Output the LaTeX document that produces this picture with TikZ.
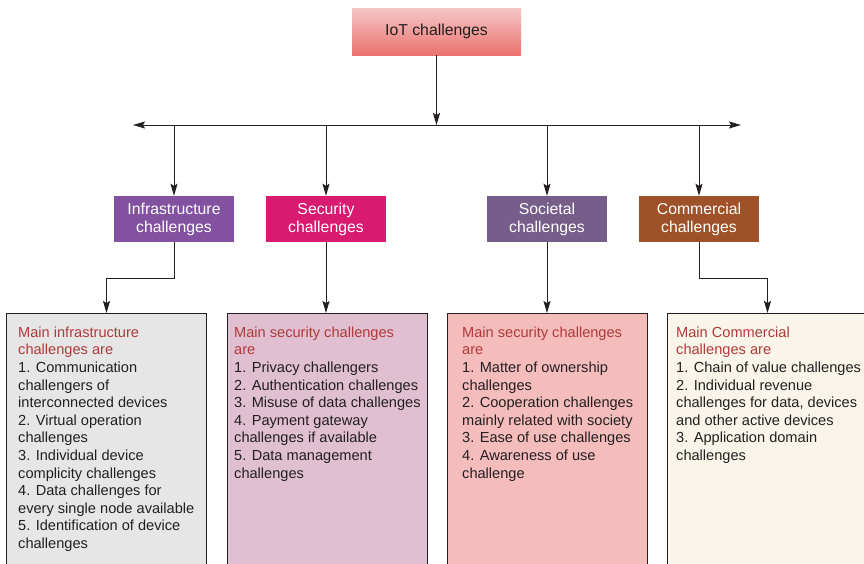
\documentclass[tikz,border=0pt]{standalone}
\usepackage{fontspec}
\setmainfont{Liberation Sans}
\usetikzlibrary{arrows.meta,calc}
\definecolor{ink}{HTML}{231F20}
\definecolor{headtop}{HTML}{F6C6C6}
\definecolor{headbot}{HTML}{EA736F}
\definecolor{infracol}{HTML}{8252A0}
\definecolor{securcol}{HTML}{D81A70}
\definecolor{sociocol}{HTML}{765D8A}
\definecolor{commcol}{HTML}{9F5129}
\definecolor{infrafill}{HTML}{E6E6E6}
\definecolor{securfill}{HTML}{E0BFD0}
\definecolor{sociofill}{HTML}{F5BCBC}
\definecolor{commfill}{HTML}{F9F5EA}
\definecolor{leadred}{HTML}{B03A3A}
\begin{document}
\begin{tikzpicture}[x=1pt,y=-1pt,
  headbox/.style={minimum width=169pt, minimum height=47pt, inner sep=0pt,
    top color=headtop, bottom color=headbot, text=ink,
    font=\fontsize{15.8}{18}\selectfont},
  catbox/.style={minimum width=120pt, minimum height=46pt, inner sep=0pt,
    text=white, align=center, font=\fontsize{15.8}{18}\selectfont},
  panel/.style={draw=ink, line width=1pt, minimum width=200pt,
    minimum height=265pt, anchor=north west, inner sep=0pt},
  listtext/.style={anchor=north west, align=left, inner sep=0pt, text=ink,
    font=\fontsize{14.6}{17.6}\selectfont},
  link/.style={draw=ink, line width=1pt, -{Stealth[length=12pt,width=7pt,inset=2pt]}},
  bus/.style={draw=ink, line width=1pt,
    {Stealth[length=12pt,width=7pt,inset=2pt]}-{Stealth[length=12pt,width=7pt,inset=2pt]}}
]
\useasboundingbox (0,0) rectangle (864,563);

% root
\node[headbox] (root) at (436.5,31.5) {IoT challenges};

% distribution bus
\coordinate (busL) at (133,125);
\coordinate (busR) at (741,125);
\draw[bus] (busL) -- (busR);
\draw[link] (root.south) -- (root.south |- busL);

% categories
\node[catbox, fill=infracol] (infra) at (174,219) {Infrastructure\\challenges};
\node[catbox, fill=securcol] (secur) at (326,219) {Security\\challenges};
\node[catbox, fill=sociocol] (socio) at (547,219) {Societal\\challenges};
\node[catbox, fill=commcol] (comm) at (699,219) {Commercial\\challenges};

\foreach \c in {infra,secur,socio,comm}
  \draw[link] (\c.north |- busL) -- (\c.north);

% detail panels
\node[panel, fill=infrafill] (p1) at (6,313) {};
\node[panel, fill=securfill] (p2) at (227,313) {};
\node[panel, fill=sociofill] (p3) at (447,313) {};
\node[panel, fill=commfill] (p4) at (667,313) {};

\draw[link] (infra.south) -- ++(0,36) -| (p1.north);
\draw[link] (secur.south) -- (secur.south |- p2.north);
\draw[link] (socio.south) -- (socio.south |- p3.north);
\draw[link] (comm.south) -- ++(0,36) -| (p4.north);

\node[listtext] (t1) at (18,326.5) {\textcolor{leadred}{Main infrastructure}\\
  \textcolor{leadred}{challenges are}\\
  1. Communication\\ challengers of\\ interconnected devices\\
  2. Virtual operation\\ challenges\\
  3. Individual device\\ complicity challenges\\
  4. Data challenges for\\ every single node available\\
  5. Identification of device\\ challenges};

\node[listtext] (t2) at (234,326.5) {\textcolor{leadred}{Main security challenges}\\
  \textcolor{leadred}{are}\\
  1. Privacy challengers\\
  2. Authentication challenges\\
  3. Misuse of data challenges\\
  4. Payment gateway\\ challenges if available\\
  5. Data management\\ challenges};

\node[listtext] (t3) at (462,326.5) {\textcolor{leadred}{Main security challenges}\\
  \textcolor{leadred}{are}\\
  1. Matter of ownership\\ challenges\\
  2. Cooperation challenges\\ mainly related with society\\
  3. Ease of use challenges\\
  4. Awareness of use\\ challenge};

\node[listtext] (t4) at (676,326.5) {\textcolor{leadred}{Main Commercial}\\
  \textcolor{leadred}{challenges are}\\
  1. Chain of value challenges\\
  2. Individual revenue\\ challenges for data, devices\\ and other active devices\\
  3. Application domain\\ challenges};
\end{tikzpicture}
\end{document}
